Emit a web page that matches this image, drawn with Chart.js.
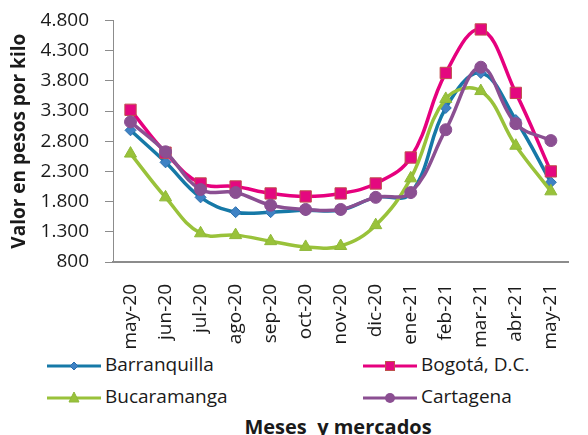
<!DOCTYPE html>
<html>
<head>
<meta charset="utf-8">
<script src="https://cdn.jsdelivr.net/npm/chart.js@4/dist/chart.umd.min.js"></script>
<style>
  html, body { margin: 0; padding: 0; background: #fff; overflow: hidden; }
  #wrap { position: relative; width: 588px; height: 435px; overflow: hidden; font-family: "Open Sans", sans-serif; color: #1a1a1a; }
  #chart { position: absolute; left: 0; top: -7px; }
  .leg { position: absolute; font-size: 19px; line-height: 24px; white-space: nowrap; }
  .leg svg { position: absolute; left: 0; top: 2px; }
  .leg span { position: absolute; left: 58px; top: -1px; }
  #xtitle { position: absolute; left: 0; width: 676px; top: 413px; text-align: center; font-weight: bold; font-size: 20px; white-space: pre; }
</style>
</head>
<body>
<div id="wrap">
  <canvas id="chart" width="588" height="357"></canvas>
  <div id="legend"></div>
  <div id="xtitle">Meses  y mercados</div>
</div>
<script>
const MONTHS = ['may-20', 'jun-20', 'jul-20', 'ago-20', 'sep-20', 'oct-20', 'nov-20', 'dic-20', 'ene-21', 'feb-21', 'mar-21', 'abr-21', 'may-21'];

const BARRANQUILLA = [2980, 2450, 1870, 1625, 1625, 1655, 1660, 1870, 1935, 3350, 3930, 3150, 2120];
const BOGOTA = [3320, 2610, 2100, 2050, 1935, 1885, 1935, 2100, 2530, 3930, 4650, 3600, 2300];
const BUCARAMANGA = [2595, 1870, 1275, 1245, 1145, 1050, 1065, 1410, 2185, 3500, 3630, 2725, 1970];
const CARTAGENA = [3120, 2625, 2000, 1950, 1740, 1670, 1670, 1870, 1950, 2990, 4025, 3090, 2810];

const Y_MIN = 800;
const Y_MAX = 4800;
const Y_STEP = 500;

const SERIES = [
  { label: 'Barranquilla', data: BARRANQUILLA, color: '#1679a7', fill: '#3f82c4', edge: '#2a6fae', style: 'rectRot', radius: 5.5, order: 4 },
  { label: 'Bogotá, D.C.', data: BOGOTA, color: '#e6007e', fill: '#e4087f', edge: '#c0504d', style: 'rect', radius: 8, order: 3 },
  { label: 'Bucaramanga', data: BUCARAMANGA, color: '#99c23a', fill: '#99c23a', edge: '#8fb83a', style: 'triangle', radius: 7, order: 2 },
  { label: 'Cartagena', data: CARTAGENA, color: '#8b4f92', fill: '#8b4f92', edge: '#8b4f92', style: 'circle', radius: 6, order: 1 },
];

function formatThousands(v) {
  return v.toLocaleString('de-DE');
}

const ctx = document.getElementById('chart').getContext('2d');

new Chart(ctx, {
  type: 'line',
  data: {
    labels: MONTHS,
    datasets: SERIES.map(s => ({
      label: s.label,
      data: s.data,
      borderColor: s.color,
      backgroundColor: s.fill,
      borderWidth: 3.5,
      tension: 0.4,
      pointStyle: s.style,
      pointRadius: s.radius,
      pointBackgroundColor: s.fill,
      pointBorderColor: s.edge,
      pointBorderWidth: 1,
      order: s.order,
    })),
  },
  options: {
    responsive: false,
    animation: false,
    layout: { padding: { top: 1, right: 1, left: 0, bottom: 0 } },
    plugins: { legend: { display: false }, tooltip: { enabled: false } },
    scales: {
      x: {
        offset: true,
        grid: { display: false },
        border: { display: true, color: '#8c8c8c', width: 2 },
        ticks: {
          color: '#1a1a1a',
          font: { family: 'Open Sans', size: 19 },
          maxRotation: 90,
          minRotation: 90,
          padding: 14,
          autoSkip: false,
        },
        afterFit: scale => { scale.height = 88; },
      },
      y: {
        min: Y_MIN,
        max: Y_MAX,
        grid: { drawOnChartArea: false, tickLength: 8, color: '#8c8c8c' },
        border: { display: true, color: '#8c8c8c', width: 1 },
        ticks: {
          stepSize: Y_STEP,
          color: '#1a1a1a',
          font: { family: 'Open Sans', size: 19 },
          padding: 16,
          callback: v => formatThousands(v),
        },
        title: {
          display: true,
          text: 'Valor en pesos por kilo',
          color: '#1a1a1a',
          font: { family: 'Open Sans', size: 19, weight: 'bold' },
          padding: { top: 8, bottom: 0 },
        },
        afterFit: scale => { scale.width = 113; },
      },
    },
  },
});

// legend with line + marker, two columns
const LEGEND_POS = [[47, 353], [363, 353], [47, 385], [363, 385]];

function markerSvg(s) {
  let shape = '';
  if (s.style === 'rectRot') shape = `<polygon points="27,7 31,11 27,15 23,11" fill="${s.fill}" stroke="${s.edge}"/>`;
  else if (s.style === 'rect') shape = `<rect x="22.5" y="6.5" width="9" height="9" fill="${s.fill}" stroke="${s.edge}"/>`;
  else if (s.style === 'triangle') shape = `<polygon points="27,5 32,15 22,15" fill="${s.fill}" stroke="${s.edge}"/>`;
  else shape = `<circle cx="27" cy="11" r="5" fill="${s.fill}"/>`;
  return `<svg width="54" height="22"><line x1="0" y1="11" x2="54" y2="11" stroke="${s.color}" stroke-width="3"/>${shape}</svg>`;
}

document.getElementById('legend').innerHTML = SERIES.map((s, i) => `
  <div class="leg" style="left:${LEGEND_POS[i][0]}px;top:${LEGEND_POS[i][1]}px">${markerSvg(s)}<span>${s.label}</span></div>
`).join('');
</script>
</body>
</html>
